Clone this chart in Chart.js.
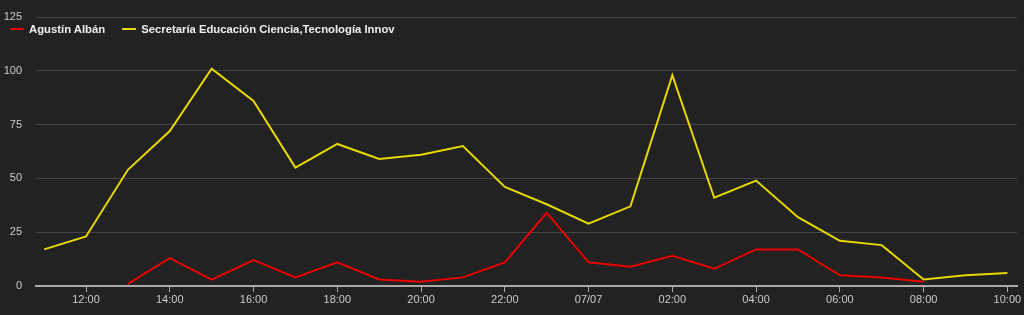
<!DOCTYPE html>
<html>
<head>
<meta charset="utf-8">
<script src="https://cdn.jsdelivr.net/npm/chart.js@4"></script>
<style>
  html, body { margin: 0; padding: 0; background: #222222; }
  #wrap { position: relative; width: 1024px; height: 315px; }
  #legend { position: absolute; left: 10px; top: 23px; font: bold 11.3px "Liberation Sans", Arial, sans-serif; color: #eeeeee; }
  #legend span.item { margin-right: 17px; white-space: nowrap; }
  #legend i { display: inline-block; width: 14px; height: 2px; vertical-align: middle; margin-right: 5px; position: relative; top: -1px; }
</style>
</head>
<body>
<div id="wrap">
  <canvas id="chart" width="1024" height="315"></canvas>
  <div id="legend"></div>
</div>
<script>
// hours since midnight of the first day (24 = 07/07 00:00)
const hours = [11, 12, 13, 14, 15, 16, 17, 18, 19, 20, 21, 22, 23, 24, 25, 26, 27, 28, 29, 30, 31, 32, 33, 34];
const seriesNames = ['Agustín Albán', 'Secretaría Educación Ciencia,Tecnología Innov'];
const seriesColors = ['#e80000', '#e6d800'];
const albanValues = [null, null, 1, 13, 3, 12, 4, 11, 3, 2, 4, 11, 34, 11, 9, 14, 8, 17, 17, 5, 4, 2, null, null];
const secretariaValues = [17, 23, 54, 72, 101, 86, 55, 66, 59, 61, 65, 46, 38, 29, 37, 98, 41, 49, 32, 21, 19, 3, 5, 6];
const tickHours = [12, 14, 16, 18, 20, 22, 24, 26, 28, 30, 32, 34];
const tickLabels = ['12:00', '14:00', '16:00', '18:00', '20:00', '22:00', '07/07', '02:00', '04:00', '06:00', '08:00', '10:00'];

function toPoints(values) {
    return values.map((v, i) => ({ x: hours[i], y: v }));
}

const legendBox = document.getElementById('legend');
seriesNames.forEach((name, i) => {
    const item = document.createElement('span');
    item.className = 'item';
    item.innerHTML = `<i style="background:${seriesColors[i]}"></i>${name}`;
    legendBox.appendChild(item);
});

new Chart(document.getElementById('chart').getContext('2d'), {
    type: 'line',
    data: {
        datasets: [
            { label: seriesNames[0], data: toPoints(albanValues), borderColor: seriesColors[0], borderWidth: 2, pointRadius: 0, spanGaps: false, tension: 0 },
            { label: seriesNames[1], data: toPoints(secretariaValues), borderColor: seriesColors[1], borderWidth: 2, pointRadius: 0, spanGaps: false, tension: 0 }
        ]
    },
    options: {
        responsive: false,
        animation: false,
        layout: { padding: { top: 17, right: 7, left: 0, bottom: 0 } },
        plugins: { legend: { display: false }, tooltip: { enabled: false } },
        scales: {
            x: {
                type: 'linear',
                min: 10.806,
                max: 34.23,
                afterBuildTicks: scale => { scale.ticks = tickHours.map(v => ({ value: v })); },
                afterFit: scale => { scale.height = 29; },
                ticks: {
                    color: '#cccccc',
                    font: { family: '"Liberation Sans", Arial, sans-serif', size: 11 },
                    padding: 1,
                    maxRotation: 0,
                    autoSkip: false,
                    callback: value => tickLabels[tickHours.indexOf(value)]
                },
                grid: { drawOnChartArea: false, drawTicks: true, tickLength: 6, tickColor: '#aaaaaa' },
                border: { display: true, color: '#aaaaaa', width: 2 }
            },
            y: {
                min: 0,
                max: 125,
                afterFit: scale => { scale.width = 36; scale.paddingTop = 0; scale.paddingBottom = 0; },
                ticks: {
                    stepSize: 25,
                    color: '#cccccc',
                    font: { family: '"Liberation Sans", Arial, sans-serif', size: 11, lineHeight: 0.5 },
                    padding: 14
                },
                grid: { color: '#444444', drawTicks: false, lineWidth: 1 },
                border: { display: false }
            }
        }
    }
});
</script>
</body>
</html>
